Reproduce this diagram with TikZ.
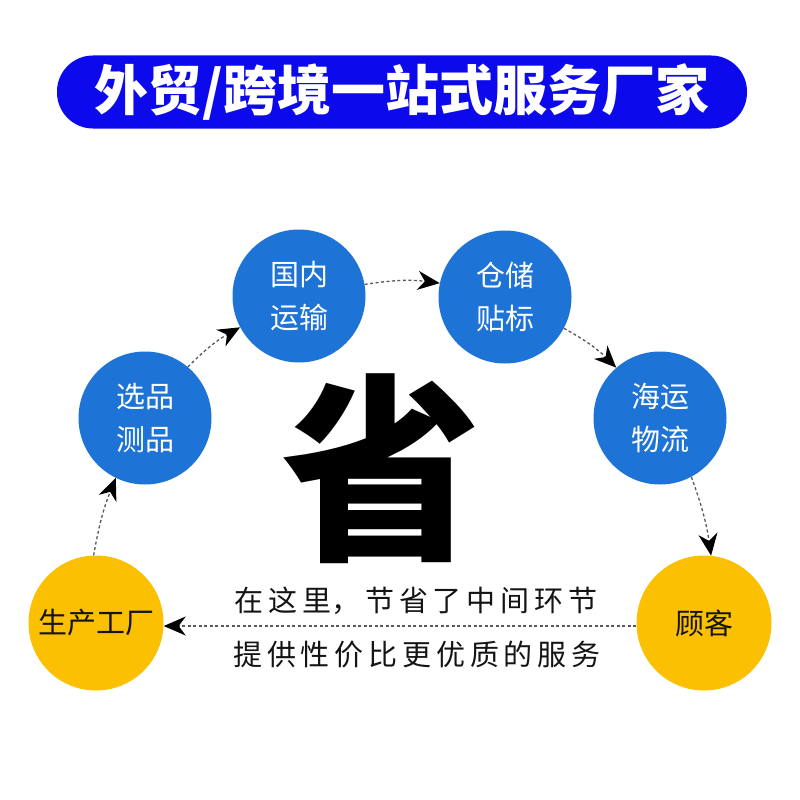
\documentclass[tikz,border=0pt]{standalone}
\usepackage{fontspec}
\usetikzlibrary{arrows.meta,positioning}
\newfontfamily\cjk{Noto Sans CJK SC}
\newfontfamily\cjkheavy{Noto Sans CJK SC Black}
\definecolor{banner}{RGB}{12,10,236}
\definecolor{sky}{RGB}{30,115,215}
\definecolor{sun}{RGB}{252,192,3}
\definecolor{ink}{RGB}{20,20,20}
\tikzset{
  stage/.style={circle,fill=#1,minimum size=133pt,inner sep=0pt,align=center,
    text=white,font=\cjk\fontsize{29}{43}\selectfont},
  stage/.default=sky,
  end/.style={circle,fill=sun,minimum size=135pt,inner sep=0pt,align=center,
    text=ink,font=\cjk\fontsize{29}{34}\selectfont},
  flow/.style={-{Stealth[length=22pt,width=19pt,inset=7pt,black,fill=black]},
    draw=black!65,line width=1.3pt,dash pattern=on 3pt off 2.5pt},
  tag/.style={font=\cjk\fontsize{29}{34}\selectfont,text=ink},
}
\begin{document}
\begin{tikzpicture}[x=1pt,y=1pt]
  \useasboundingbox[fill=white] (0,0) rectangle (800,-800);
  % title bar
  \node[fill=banner,rounded corners=36pt,minimum width=690pt,minimum height=73pt,
    text=white,font=\cjk\bfseries\fontsize{54}{60}\selectfont] (title) at (402,-92) {外贸/跨境一站式服务厂家};
  % stages
  \node[end] (fac) at (96,-623) {生产工厂};
  \node[stage] (pick) at (145,-418) {选品\\测品};
  \node[stage] (ship) at (299,-296) {国内\\运输};
  \node[stage] (ware) at (505,-297) {仓储\\贴标};
  \node[stage] (sea) at (660,-418) {海运\\物流};
  \node[end] (cust) at (704,-623) {\raisebox{-5pt}{顾客}};
  % big character
  \node[font=\cjkheavy\fontsize{200}{200}\selectfont,text=black,inner sep=0pt] (save) at (381,-469) {省};
  \node[tag] (line1) at (416,-601) {在\,这\,里，\,节\,省\,了\,中\,间\,环\,节};
  \node[tag] (line2) at (417,-655) {提\,供\,性\,价\,比\,更\,优\,质\,的\,服\,务};
  % flow
  \draw[flow] (fac.92) to[bend left=6] (pick.244);
  \draw[flow] (pick.50) to[bend left=8] (ship.208);
  \draw[flow] (ship.10) to[bend left=8] (ware.168);
  \draw[flow] (ware.-28) to[bend left=8] (sea.131);
  \draw[flow] (sea.-62) to[bend left=6] (cust.84);
  \draw[flow] ([yshift=-3pt]cust.west) -- ([yshift=-3pt]fac.east);
\end{tikzpicture}
\end{document}
